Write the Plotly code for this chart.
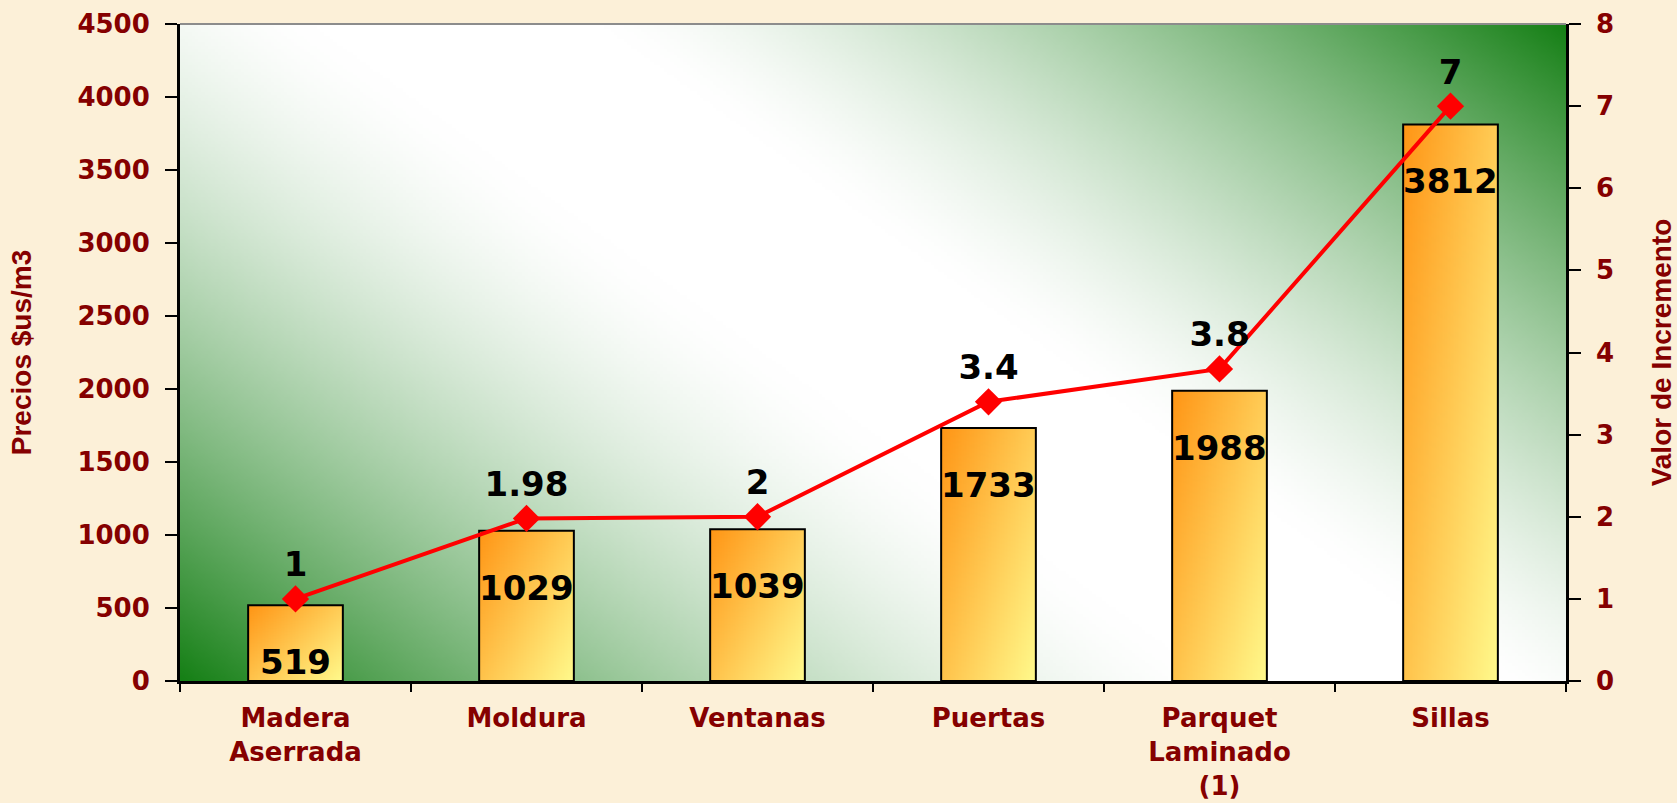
import base64
import struct
import zlib

import numpy as np
import plotly.graph_objects as go

# ---------------- data ----------------
categories = ["Madera<br>Aserrada", "Moldura", "Ventanas", "Puertas",
              "Parquet<br>Laminado<br>(1)", "Sillas"]
precios = [519, 1029, 1039, 1733, 1988, 3812]
incremento = [1, 1.98, 2, 3.4, 3.8, 7]
incremento_labels = ["1", "1.98", "2", "3.4", "3.8", "7"]
left_ticks = list(range(0, 4501, 500))
right_ticks = list(range(0, 9))

# ---------------- styles ----------------
PAPER = "#FCF0D8"
DARKRED = "#850000"
GREEN = np.array([22, 128, 22], dtype=float)
WHITE = np.array([255, 255, 255], dtype=float)
ORANGE = np.array([255, 150, 22], dtype=float)
YELLOW = np.array([255, 250, 140], dtype=float)
BAR_W = 0.41
YTICK_FONT = dict(family="DejaVu Sans", size=26, color=DARKRED, weight="bold")
XTICK_FONT = dict(family="DejaVu Sans", size=26, color=DARKRED, weight="bold")
TITLE_FONT = dict(family="Liberation Sans", size=28, color=DARKRED, weight="bold")
VALUE_FONT = dict(family="DejaVu Sans", size=34, color="black", weight="bold")


def png_uri(rgb):
    rgb = np.clip(rgb, 0, 255).astype(np.uint8)
    h, w, _ = rgb.shape
    raw = b"".join(b"\x00" + rgb[i].tobytes() for i in range(h))

    def chunk(tag, data):
        c = struct.pack(">I", len(data)) + tag + data
        return c + struct.pack(">I", zlib.crc32(tag + data) & 0xFFFFFFFF)

    png = (b"\x89PNG\r\n\x1a\n"
           + chunk(b"IHDR", struct.pack(">IIBBBBB", w, h, 8, 2, 0, 0, 0))
           + chunk(b"IDAT", zlib.compress(raw, 9))
           + chunk(b"IEND", b""))
    return "data:image/png;base64," + base64.b64encode(png).decode()


# plot-area gradient: green (bottom-left) -> white band -> green (top-right)
W, H = 420, 200
u = np.linspace(0, 1, W)[None, :]
v = 1 - np.linspace(0, 1, H)[:, None]
w = (u + 0.65 * v) / 1.65
lo, hi = 0.45, 0.58
f = np.where(w < lo, np.clip((lo - w) / lo, 0, 1) ** 1.5,
             np.where(w > hi, np.clip((w - hi) / (1 - hi), 0, 1) ** 1.4, 0.0))
bg = WHITE * (1 - f[..., None]) + GREEN * f[..., None]
bg_uri = png_uri(bg)

# bar gradient: orange (top-left) -> yellow (bottom-right)
BW, BH = 60, 240
bu = np.linspace(0, 1, BW)[None, :]
bv = np.linspace(0, 1, BH)[:, None]
s = np.clip((bu * 1.2 + bv) / 2.2, 0, 1)
bar_img = ORANGE * (1 - s[..., None]) + YELLOW * s[..., None]
bar_uri = png_uri(bar_img)

fig = go.Figure()

fig.add_trace(go.Bar(
    x=categories, y=precios, width=BAR_W,
    marker=dict(color="rgba(0,0,0,0)", line=dict(color="black", width=2)),
    hoverinfo="skip", showlegend=False,
))

fig.add_trace(go.Scatter(
    x=categories, y=incremento, yaxis="y2",
    mode="lines+markers+text", text=incremento_labels,
    textposition="top center", textfont=VALUE_FONT,
    line=dict(color="#FF0000", width=4),
    marker=dict(symbol="diamond", size=21, color="#FF0000"),
    cliponaxis=False, showlegend=False,
))

images = [dict(source=bg_uri, xref="paper", yref="paper", x=0, y=1,
               sizex=1, sizey=1, sizing="stretch", xanchor="left",
               yanchor="top", layer="below")]
for i, val in enumerate(precios):
    images.append(dict(source=bar_uri, xref="x", yref="y", x=i - BAR_W / 2,
                       y=val, sizex=BAR_W, sizey=val, sizing="stretch",
                       xanchor="left", yanchor="top", layer="below"))

annotations = []
for cat, val in zip(categories, precios):
    annotations.append(dict(x=cat, y=val, xref="x", yref="y", text=str(val),
                            showarrow=False, yanchor="middle", yshift=-57,
                            font=VALUE_FONT))

n = len(categories)
fig.update_layout(
    width=1677, height=803, autosize=False,
    paper_bgcolor=PAPER, plot_bgcolor="rgba(0,0,0,0)",
    margin=dict(l=180, r=111, t=24, b=122, pad=0),
    bargap=0.59,
    images=images,
    annotations=annotations,
    shapes=[dict(type="line", xref="paper", yref="paper", x0=0, x1=1, y0=1, y1=1,
                 line=dict(color="#8C8C8C", width=2))],
    xaxis=dict(type="category", range=[-0.5, n - 0.5], showline=True,
               linecolor="black", linewidth=2.5, ticks="outside", ticklen=8,
               tickwidth=2, tickcolor="black", tickson="boundaries",
               tickfont=XTICK_FONT, showgrid=False, zeroline=False,
               ticklabelstandoff=12, automargin=False),
    xaxis2=dict(overlaying="x", anchor="y", range=[-0.5, n - 0.5],
                tickvals=[i - 0.5 for i in range(n + 1)], ticks="inside",
                ticklen=9, tickwidth=2, tickcolor="black",
                showticklabels=False, showline=False, showgrid=False,
                zeroline=False, automargin=False),
    yaxis=dict(range=[0, 4500], tickvals=left_ticks, ticks="outside",
               ticklen=12, tickwidth=2, tickcolor="black", showline=True,
               linecolor="black", linewidth=3, tickfont=YTICK_FONT,
               showgrid=False, zeroline=False, ticklabelstandoff=10,
               automargin=False,
               title=dict(text="Precios $us/m3", font=TITLE_FONT, standoff=38)),
    yaxis2=dict(overlaying="y", side="right", range=[0, 8],
                tickvals=right_ticks, ticks="outside", ticklen=12, tickwidth=2,
                tickcolor="black", showline=True, linecolor="black",
                linewidth=2.5, tickfont=YTICK_FONT, showgrid=False,
                zeroline=False, ticklabelstandoff=10, automargin=False,
                title=dict(text="Valor de Incremento", font=TITLE_FONT,
                           standoff=39)),
    yaxis3=dict(overlaying="y", side="left", anchor="x", range=[0, 4500],
                tickvals=left_ticks, ticks="inside", ticklen=12, tickwidth=2,
                tickcolor="black", showticklabels=False, showline=False,
                showgrid=False, zeroline=False, automargin=False),
    yaxis4=dict(overlaying="y", side="right", anchor="x", range=[0, 8],
                tickvals=right_ticks, ticks="inside", ticklen=12, tickwidth=2,
                tickcolor="black", showticklabels=False, showline=False,
                showgrid=False, zeroline=False, automargin=False),
)

fig.write_html("out.html", config={"displayModeBar": False},
               post_script="document.body.style.margin='0px';"
                           "document.body.style.background='" + PAPER + "';")
